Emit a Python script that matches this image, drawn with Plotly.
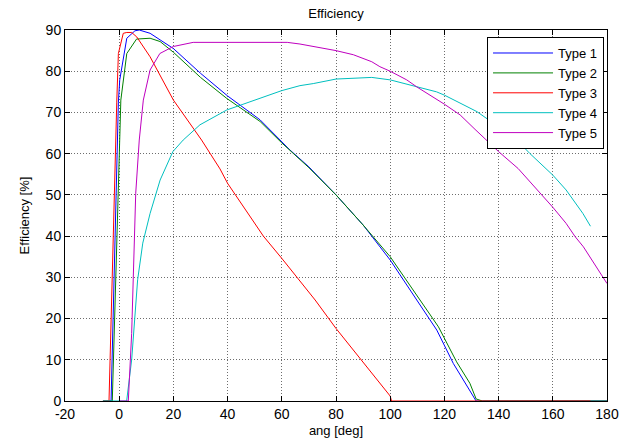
import plotly.graph_objects as go

# ---- data ----
type1_x = [-6, -3, -0.3, 0.2, 2.8, 5.8, 7.4, 11.4, 15.1, 20, 30, 40, 52, 60, 63, 70, 80, 90, 100, 109.8, 117.2, 123.3, 131.7, 140, 150, 160, 170, 180]
type1_y = [0, 0, 72.5, 77.9, 88, 89.8, 90, 89.2, 87.6, 85.5, 79.5, 74, 68.2, 63, 60.9, 56.8, 50, 42.7, 34.2, 24.5, 17.2, 9.1, 0, 0, 0, 0, 0, 0]

type2_x = [-6, -2.55, 0.6, 2.8, 6.4, 11.4, 15.1, 20, 30, 39.7, 52, 60, 70, 80, 90, 100, 111, 117.8, 124.5, 129.4, 131.7, 134, 140, 150, 160, 170, 180]
type2_y = [0, 0, 73, 84.3, 87.8, 88, 87.2, 84.6, 78.5, 73.4, 67.8, 62.6, 56.6, 50, 42.7, 35, 24.5, 18, 9.5, 4.3, 0.5, 0, 0, 0, 0, 0, 0]

type3_x = [-6, -3.76, -0.9, -0.3, 1.5, 2.8, 4.6, 6.5, 11.4, 15.1, 20, 30.4, 37.2, 40, 53.2, 60, 72.3, 80, 90, 100, 100.5, 110, 120, 130, 140, 150, 160, 173.9]
type3_y = [0, 0, 72.5, 84.3, 89.2, 89.4, 89.4, 88.3, 83.5, 79.1, 73, 63.3, 56.3, 52.8, 40, 34.6, 24.5, 17.6, 9.3, 1.2, 0, 0, 0, 0, 0, 0, 0, 0]

type4_x = [-6, 2.75, 4.6, 5.85, 6.8, 8.7, 11.4, 15.1, 19.8, 23.6, 29.8, 39.7, 52, 60, 66.7, 71.6, 80, 90, 93.2, 100, 107.3, 117.1, 120, 125.8, 132, 140, 148.5, 151.6, 157.7, 160, 164.9, 168.6, 171.1, 173.9]
type4_y = [0, 0, 10, 20, 29.4, 38.3, 45.5, 53.6, 60.5, 63.3, 67, 70.6, 73.4, 75.3, 76.5, 77, 78.1, 78.5, 78.5, 77.9, 76.7, 75, 74.2, 72.2, 70.2, 66.5, 62.1, 60, 56.4, 54.8, 51.2, 47.9, 45.5, 42.4]

type5_x = [0, 3.36, 4.6, 5.2, 6.1, 7.4, 8.9, 11.4, 15, 20, 27.3, 40, 50, 62, 66.7, 80, 86.4, 93.2, 96.2, 100, 106.1, 109.8, 120, 125.8, 131.3, 140, 147.2, 151.6, 160, 164.9, 168.2, 171.3, 180]
type5_y = [0, 0, 16.4, 31, 50.4, 63.3, 73, 80.3, 84.3, 86, 87, 87, 87, 87, 86.6, 85, 84, 82.3, 81.1, 80, 77.9, 76.2, 72, 69.4, 65.9, 60.5, 56.4, 53.2, 47, 43.1, 39.9, 37.4, 28.5]

names = ["Type 1", "Type 2", "Type 3", "Type 4", "Type 5"]
colors = ["rgb(0,0,255)", "rgb(0,128,0)", "rgb(255,0,0)", "rgb(0,191,191)", "rgb(191,0,191)"]
xs = [type1_x, type2_x, type3_x, type4_x, type5_x]
ys = [type1_y, type2_y, type3_y, type4_y, type5_y]

x_ticks = [-20, 0, 20, 40, 60, 80, 100, 120, 140, 160, 180]
y_ticks = [0, 10, 20, 30, 40, 50, 60, 70, 80, 90]

FONT = "Liberation Sans, Arial, sans-serif"

fig = go.Figure()
for n, c, x, y in zip(names, colors, xs, ys):
    fig.add_trace(go.Scatter(x=x, y=y, mode="lines", name=n,
                             line=dict(color=c, width=1)))

axis_common = dict(
    showline=True, linecolor="black", linewidth=1, mirror="ticks",
    ticks="inside", ticklen=5, tickcolor="black",
    showgrid=True, gridcolor="rgba(60,60,60,0.75)", griddash="1px,2px", gridwidth=1,
    zeroline=False, tickfont=dict(family=FONT, size=14, color="black"),
)

fig.update_xaxes(range=[-20, 180], tickvals=x_ticks, ticktext=[str(v) for v in x_ticks],
                 title=dict(text="ang [deg]", font=dict(family=FONT, size=13, color="black"), standoff=5),
                 **axis_common)
fig.update_yaxes(range=[0, 90], tickvals=y_ticks, ticktext=[str(v) for v in y_ticks],
                 title=dict(text="Efficiency [%]", font=dict(family=FONT, size=13, color="black"), standoff=13),
                 **axis_common)

fig.update_layout(
    width=625, height=442,
    margin=dict(l=65, r=18, t=30, b=41, autoexpand=False),
    paper_bgcolor="white", plot_bgcolor="white",
    title=dict(text="Efficiency", x=0.5, xref="paper", xanchor="center",
               y=1 - 13 / 442, yanchor="middle",
               font=dict(family=FONT, size=13, color="black")),
    showlegend=True,
    legend=dict(x=0.9945, y=0.981, xanchor="right", yanchor="top",
                bgcolor="white", bordercolor="black", borderwidth=1,
                font=dict(family=FONT, size=13, color="black"),
                itemwidth=60, tracegroupgap=0),
    font=dict(family=FONT),
)

fig.write_html("out.html", config={"displayModeBar": False},
               post_script="document.body.style.margin='0px';document.body.style.overflow='hidden';")
